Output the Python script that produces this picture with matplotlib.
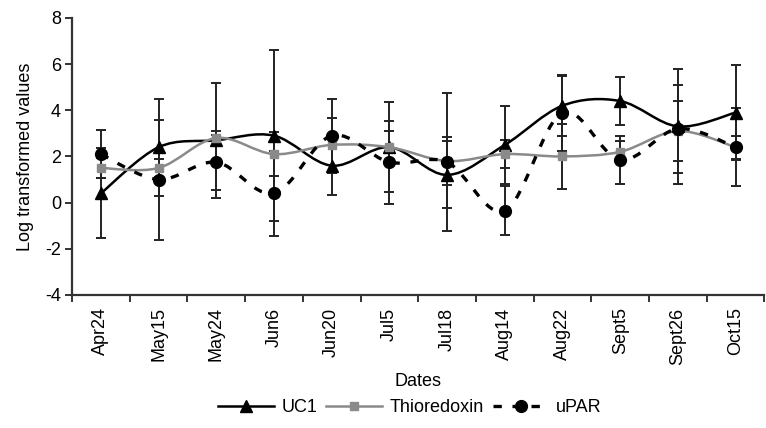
"""Smoothed line chart of log transformed values with error bars."""
import matplotlib
matplotlib.use("Agg")
import matplotlib.pyplot as plt
import numpy as np
from matplotlib.path import Path
from matplotlib.patches import PathPatch
from matplotlib.lines import Line2D


dates = ["Apr24", "May15", "May24", "Jun6", "Jun20", "Jul5",
         "Jul18", "Aug14", "Aug22", "Sept5", "Sept26", "Oct15"]

uc1 = [0.4, 2.4, 2.7, 2.9, 1.6, 2.4, 1.2, 2.5, 4.2, 4.4, 3.3, 3.9]
uc1_err = [1.95, 2.1, 2.5, 3.7, 1.25, 1.95, 1.45, 1.7, 1.3, 1.05, 2.5, 2.05]

thio = [1.5, 1.5, 2.8, 2.1, 2.5, 2.4, 1.8, 2.1, 2.0, 2.2, 3.1, 2.4]
thio_err = [0.45, 0.4, 0.3, 0.95, 1.15, 0.7, 1.05, 0.6, 1.4, 0.45, 1.3, 0.5]

upar = [2.1, 1.0, 1.75, 0.4, 2.9, 1.75, 1.75, -0.35, 3.9, 1.85, 3.2, 2.4]
upar_err = [1.05, 2.6, 1.2, 1.85, 1.6, 1.8, 3.0, 1.05, 1.65, 1.05, 1.9, 1.7]


def smooth_path(xs, ys):
    """Bezier path through the points, like a spreadsheet 'smoothed line'."""
    pts = np.column_stack([xs, ys]).astype(float)
    ext = np.vstack([pts[0], pts, pts[-1]])
    verts = [pts[0]]
    codes = [Path.MOVETO]
    for i in range(len(pts) - 1):
        p0, p1, p2, p3 = ext[i], ext[i + 1], ext[i + 2], ext[i + 3]
        verts += [p1 + (p2 - p0) / 6, p2 - (p3 - p1) / 6, p2]
        codes += [Path.CURVE4] * 3
    return Path(verts, codes)


def do_plot():
    plt.rcParams["font.family"] = ["Liberation Sans", "DejaVu Sans"]
    plt.rcParams["axes.unicode_minus"] = False
    fig = plt.figure(figsize=(7.66, 4.28), dpi=100)
    ax = fig.add_axes([0.094, 0.311, 0.904, 0.647])
    x = np.arange(len(dates))

    series = [
        (uc1, uc1_err, "black", "-", "^", 9, "UC1"),
        (thio, thio_err, "#8a8a8a", "-", "s", 6, "Thioredoxin"),
        (upar, upar_err, "black", (0, (2.5, 3.2)), "o", 8.5, "uPAR"),
    ]
    handles = []
    for vals, err, color, ls, marker, ms, label in series:
        lw = 2.4 if label == "uPAR" else 1.8
        ax.errorbar(x, vals, yerr=err, fmt="none", ecolor="#222222",
                    elinewidth=1.4, capsize=3.5, capthick=1.4, zorder=2)
        ax.add_patch(PathPatch(smooth_path(x, vals), fill=False,
                               edgecolor=color, linewidth=lw,
                               linestyle=ls, zorder=3))
        ax.plot(x, vals, linestyle="none", marker=marker, markersize=ms,
                color=color, zorder=4)
        handles.append(Line2D([], [], color=color, linestyle=ls,
                              linewidth=lw, marker=marker, markersize=ms,
                              label=label))

    ax.set_xlim(-0.5, len(dates) - 0.5)
    ax.set_ylim(-4, 8)
    ax.set_yticks(np.arange(-4, 9, 2))
    ax.set_xticks(x)
    ax.set_xticklabels(dates, rotation=90, fontsize=13)
    ax.set_xticks(np.arange(-0.5, len(dates), 1), minor=True)
    ax.tick_params(axis="x", which="major", length=0, pad=9)
    ax.tick_params(axis="x", which="minor", length=5, width=1.4,
                   color="#333333")
    ax.tick_params(axis="y", length=5, width=1.4, color="#333333",
                   labelsize=13, pad=3)
    for side in ["top", "right"]:
        ax.spines[side].set_visible(False)
    for side in ["left", "bottom"]:
        ax.spines[side].set_linewidth(1.6)
        ax.spines[side].set_color("#333333")

    ax.set_ylabel("Log transformed values", fontsize=13, labelpad=8)
    ax.set_xlabel("Dates", fontsize=13, labelpad=6)

    fig.legend(handles=handles, loc="center", ncol=3, frameon=False,
               bbox_to_anchor=(0.535, 0.047), fontsize=13,
               handlelength=3.1, columnspacing=0.5, handletextpad=0.4)

    fig.savefig("out.png", dpi=100)


if __name__ == "__main__":
    do_plot()
